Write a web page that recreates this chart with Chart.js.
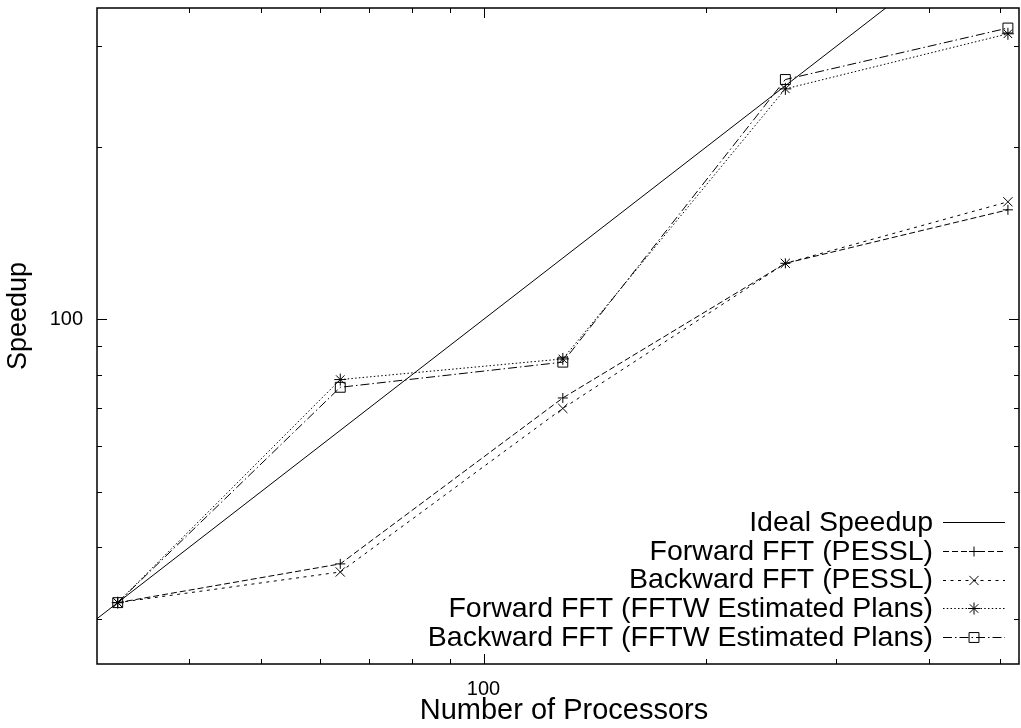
<!DOCTYPE html>
<html>
<head>
<meta charset="utf-8">
<title>Speedup</title>
<script src="https://cdn.jsdelivr.net/npm/chart.js@4.4.1/dist/chart.umd.min.js"></script>
<style>
  html, body { margin: 0; padding: 0; background: #fff; }
  canvas { display: block; }
</style>
</head>
<body>
<canvas id="speedup" width="1021" height="728"></canvas>
<script>
// Measured speedups (relative to 32 processors)
const processors    = [32, 64, 128, 256, 512];
const forwardPessl  = [32, 37.4, 72.9, 125.3, 155.4];
const backwardPessl = [32, 36.2, 69.9, 125.3, 160.5];
const forwardFftw   = [32, 78.5, 85.3, 252.8, 315.5];
const backwardFftw  = [32, 76.1, 84.2, 262.5, 322.9];

// Axis ranges and ticks (both axes logarithmic)
const xRange = [30, 530];
const yRange = [25, 350];
const xTickLabels = [100];
const yTickLabels = [100];
const xMinorTicks = [40, 50, 60, 70, 80, 90, 200, 300, 400, 500];
const yMinorTicks = [30, 40, 50, 60, 70, 80, 90, 200, 300];

const seriesNames = [
  'Ideal Speedup',
  'Forward FFT (PESSL)',
  'Backward FFT (PESSL)',
  'Forward FFT (FFTW Estimated Plans)',
  'Backward FFT (FFTW Estimated Plans)'
];
const xTitle = 'Number of Processors';
const yTitle = 'Speedup';

const FONT = '"Liberation Sans", Arial, Helvetica, sans-serif';

const toPoints = ys => processors.map((p, i) => ({ x: p, y: ys[i] }));

function series(label, data, dash, style, radius) {
  return {
    label, data,
    borderColor: '#000',
    borderWidth: 1,
    borderDash: dash,
    pointStyle: style,
    pointRadius: radius,
    pointHoverRadius: radius,
    pointBorderColor: '#000',
    pointBackgroundColor: 'rgba(0,0,0,0)',
    pointBorderWidth: 1,
    tension: 0,
    fill: false
  };
}

const datasets = [
  // ideal speedup: speedup equal to processor count across the whole axis
  series(seriesNames[0], xRange.map(v => ({ x: v, y: v })), [], false, 0),
  series(seriesNames[1], toPoints(forwardPessl), [6, 3], 'cross', 5),
  series(seriesNames[2], toPoints(backwardPessl), [3, 4.5], 'crossRot', 6.5),
  series(seriesNames[3], toPoints(forwardFftw), [1.5, 2.25], 'star', 6),
  series(seriesNames[4], toPoints(backwardFftw), [9, 3, 1.5, 3], 'rect', 7)
];

// Frame with inward ticks on all four sides, axis titles
const framePlugin = {
  id: 'frame',
  beforeDatasetsDraw(chart) {
    const { ctx, chartArea: a, scales: { x, y } } = chart;
    ctx.save();
    ctx.strokeStyle = '#000';
    ctx.lineWidth = 1;
    ctx.beginPath();
    const tick = (vals, len) => {
      vals.forEach(v => {
        const px = Math.round(x.getPixelForValue(v)) + 0.5;
        ctx.moveTo(px, a.bottom); ctx.lineTo(px, a.bottom - len);
        ctx.moveTo(px, a.top); ctx.lineTo(px, a.top + len);
      });
    };
    const ytick = (vals, len) => {
      vals.forEach(v => {
        const py = Math.round(y.getPixelForValue(v)) + 0.5;
        ctx.moveTo(a.left, py); ctx.lineTo(a.left + len, py);
        ctx.moveTo(a.right, py); ctx.lineTo(a.right - len, py);
      });
    };
    tick(xTickLabels, 10); tick(xMinorTicks, 5);
    ytick(yTickLabels, 10); ytick(yMinorTicks, 5);
    ctx.stroke();
    ctx.lineWidth = 1.5;
    ctx.strokeRect(a.left, a.top, a.right - a.left, a.bottom - a.top);
    ctx.restore();
  },
  afterDraw(chart) {
    const { ctx } = chart;
    ctx.save();
    ctx.fillStyle = '#000';
    ctx.textAlign = 'center';
    ctx.textBaseline = 'middle';
    ctx.font = '29px ' + FONT;
    ctx.fillText(xTitle, 564, 711);
    ctx.translate(19, 316);
    ctx.rotate(-Math.PI / 2);
    ctx.font = '27px ' + FONT;
    ctx.fillText(yTitle, 0, 0);
    ctx.restore();
  }
};

// Key in the lower right: right-aligned text, line sample with marker
const keyPlugin = {
  id: 'key',
  afterDatasetsDraw(chart) {
    const { ctx } = chart;
    const textRight = 933, x0 = 943, x1 = 1005, top = 522, step = 28.75;
    ctx.save();
    ctx.font = '28.5px ' + FONT;
    ctx.textAlign = 'right';
    ctx.textBaseline = 'middle';
    chart.data.datasets.forEach((ds, i) => {
      const yy = top + i * step;
      ctx.fillStyle = '#000';
      ctx.fillText(ds.label, textRight, yy + 1);
      ctx.strokeStyle = '#000';
      ctx.lineWidth = 1;
      ctx.setLineDash(ds.borderDash || []);
      ctx.beginPath();
      ctx.moveTo(x0, Math.round(yy) + 0.5);
      ctx.lineTo(x1, Math.round(yy) + 0.5);
      ctx.stroke();
      ctx.setLineDash([]);
      if (ds.pointStyle && ds.pointRadius > 0) {
        ctx.fillStyle = 'rgba(0,0,0,0)';
        Chart.helpers.drawPoint(ctx, {
          pointStyle: ds.pointStyle, rotation: 0,
          radius: ds.pointRadius, borderWidth: 1
        }, (x0 + x1) / 2, Math.round(yy) + 0.5);
      }
    });
    ctx.restore();
  }
};

new Chart(document.getElementById('speedup'), {
  type: 'line',
  data: { datasets },
  plugins: [framePlugin, keyPlugin],
  options: {
    responsive: false,
    devicePixelRatio: 1,
    animation: false,
    layout: { autoPadding: false, padding: { left: 0, right: 2, top: 8, bottom: 0 } },
    plugins: { legend: { display: false }, tooltip: { enabled: false } },
    scales: {
      x: {
        type: 'logarithmic',
        min: xRange[0], max: xRange[1],
        grid: { display: false },
        border: { display: false },
        afterBuildTicks: s => { s.ticks = xTickLabels.map(v => ({ value: v })); },
        afterFit: s => { s.height = 64; s.paddingLeft = 0; s.paddingRight = 0; },
        ticks: {
          color: '#000', font: { family: FONT, size: 20 },
          padding: 5, maxRotation: 0, autoSkip: false,
          callback: v => String(v)
        }
      },
      y: {
        type: 'logarithmic',
        min: yRange[0], max: yRange[1],
        grid: { display: false },
        border: { display: false },
        afterBuildTicks: s => { s.ticks = yTickLabels.map(v => ({ value: v })); },
        afterFit: s => { s.width = 97; s.paddingTop = 0; s.paddingBottom = 0; },
        ticks: {
          color: '#000', font: { family: FONT, size: 20 },
          padding: 6, autoSkip: false,
          callback: v => String(v)
        }
      }
    }
  }
});
</script>
</body>
</html>
